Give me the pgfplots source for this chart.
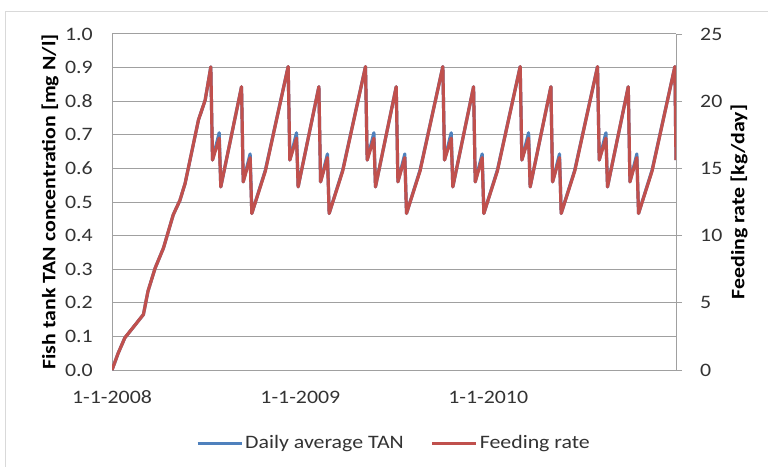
\documentclass[border=0pt]{standalone}
\usepackage{fontspec}
\setmainfont{Carlito}[FakeStretch=1.15]
\usepackage{pgfplots}
\usepackage{pgfplotstable}
\pgfplotsset{compat=1.18}

\definecolor{tanblue}{HTML}{4F81BD}
\definecolor{feedred}{HTML}{C0504D}
\definecolor{gridgray}{HTML}{A0A0A0}
\definecolor{framegray}{HTML}{D9D9D9}
\definecolor{txt}{HTML}{333333}

% Daily average TAN in the fish tank [mg N/l], day 0 = 1-1-2008
\pgfplotstableread{
day tan
0 0
12 0.05
25 0.096
61 0.165
70 0.235
84 0.304
100 0.363
119 0.462
132 0.505
142 0.555
168 0.744
181 0.803
192 0.902
195.3 0.625
208.3 0.706
211.4 0.545
251.7 0.843
255 0.56
268.4 0.643
271.7 0.466
298 0.595
342.3 0.903
345.6 0.625
358.6 0.706
361.7 0.545
402 0.843
405.3 0.56
418.7 0.643
422 0.466
448.3 0.595
492.6 0.903
495.9 0.625
508.9 0.706
512 0.545
552.3 0.843
555.6 0.56
569 0.643
572.3 0.466
598.6 0.595
642.9 0.903
646.2 0.625
659.2 0.706
662.3 0.545
702.6 0.843
705.9 0.56
719.3 0.643
722.6 0.466
748.9 0.595
793.2 0.903
796.5 0.625
809.5 0.706
812.6 0.545
852.9 0.843
856.2 0.56
869.6 0.643
872.9 0.466
899.2 0.595
943.5 0.903
946.8 0.625
959.8 0.706
962.9 0.545
1003.2 0.843
1006.5 0.56
1019.9 0.643
1023.2 0.466
1049.5 0.595
1093.8 0.903
1096 0.625
}\tantable

% Feeding rate [kg/day]
\pgfplotstableread{
day feed
0 0
12 1.25
25 2.4
61 4.125
70 5.875
84 7.6
100 9.075
119 11.55
132 12.625
142 13.875
168 18.6
181 20.075
192 22.55
195.3 15.625
208.3 17.25
211.4 13.625
251.7 21.075
255 14
268.4 15.8
271.7 11.65
298 14.8
342.3 22.575
345.6 15.625
358.6 17.25
361.7 13.625
402 21.075
405.3 14
418.7 15.8
422 11.65
448.3 14.8
492.6 22.575
495.9 15.625
508.9 17.25
512 13.625
552.3 21.075
555.6 14
569 15.8
572.3 11.65
598.6 14.8
642.9 22.575
646.2 15.625
659.2 17.25
662.3 13.625
702.6 21.075
705.9 14
719.3 15.8
722.6 11.65
748.9 14.8
793.2 22.575
796.5 15.625
809.5 17.25
812.6 13.625
852.9 21.075
856.2 14
869.6 15.8
872.9 11.65
899.2 14.8
943.5 22.575
946.8 15.625
959.8 17.25
962.9 13.625
1003.2 21.075
1006.5 14
1019.9 15.8
1023.2 11.65
1049.5 14.8
1093.8 22.575
1096 15.625
}\feedtable

\pgfplotsset{
  common/.style={
    at={(112pt,97pt)}, anchor=south west,
    scale only axis, width=564pt, height=336pt,
    xmin=0, xmax=1096,
    axis line style={draw=gridgray, line width=1pt, -},
    /pgf/number format/assume math mode=true,
    tick label style={font=\fontsize{19}{22}\selectfont, text=txt},
    label style={font=\fontsize{19}{22}\selectfont\bfseries, text=black},
  },
}

\begin{document}
\begin{tikzpicture}
\path[use as bounding box] (0pt,0pt) rectangle (768pt,467pt);
% chart area border (only its top and left edges fall inside the page)
\draw[framegray, line width=1pt] (768pt,455pt) -- (5pt,455pt) -- (5pt,0pt);

\begin{axis}[
  common,
  ymin=0, ymax=1,
  axis x line*=bottom, axis y line*=left,
  xtick={0,366,731},
  xticklabels={1-1-2008,1-1-2009,1-1-2010},
  ytick={0,0.1,0.2,0.3,0.4,0.5,0.6,0.7,0.8,0.9,1.0},
  yticklabel style={/pgf/number format/fixed, /pgf/number format/fixed zerofill, /pgf/number format/precision=1},
  ymajorgrids, grid style={draw=gridgray, line width=1pt},
  major tick length=0pt,
  xticklabel style={anchor=center, inner sep=0pt, yshift=-27pt},
  yticklabel style={anchor=east, inner sep=0pt, xshift=-19pt},
  ylabel={Fish tank TAN concentration [mg N/l]},
  ylabel style={at={(axis description cs:-0.1099,0.5)}, anchor=center},
  legend style={at={(0.5,0)}, anchor=center, yshift=-73pt,
    draw=none, fill=none, legend columns=2,
    font=\fontsize{19}{22}\selectfont, text=txt,
    nodes={inner sep=2pt},
    /tikz/every even column/.append style={column sep=25pt}},
  legend cell align=left,
  legend image code/.code={\draw[#1, line width=3pt] (0pt,0pt) -- (44pt,0pt);},
]
\addplot[tanblue, line width=3.2pt, line join=round] table[x=day, y=tan] {\tantable};
\addlegendentry{Daily average TAN}
\addlegendimage{feedred}
\addlegendentry{Feeding rate}
\end{axis}

\begin{axis}[
  common,
  ymin=0, ymax=25,
  axis x line=none, axis y line*=right,
  ytick={0,5,10,15,20,25},
  major tick length=6pt, tick align=outside,
  ytick style={draw=gridgray, line width=1pt},
  yticklabel style={anchor=west, inner sep=0pt, xshift=18pt},
  ylabel={Feeding rate [kg/day]},
  ylabel style={at={(axis description cs:1.1117,0.5)}, anchor=center},
]
\addplot[feedred, line width=3.2pt, line join=round] table[x=day, y=feed] {\feedtable};
\end{axis}
\end{tikzpicture}
\end{document}
